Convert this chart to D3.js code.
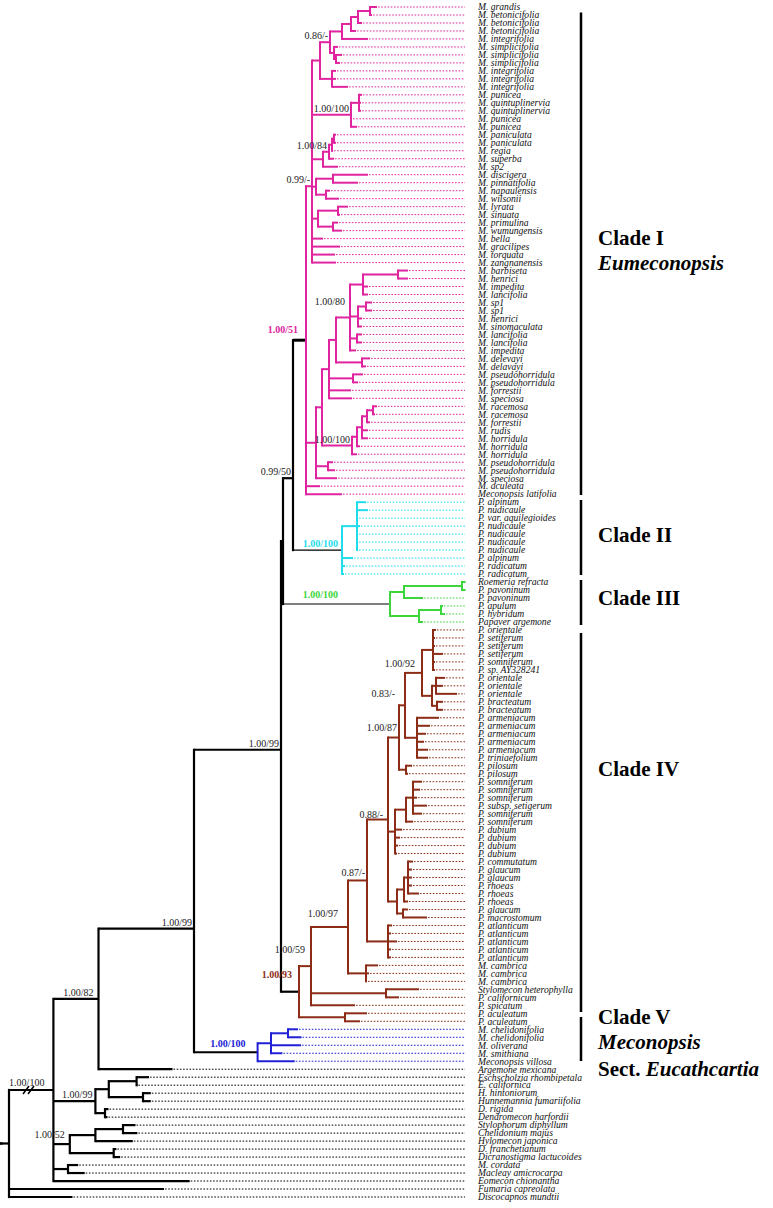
<!DOCTYPE html>
<html><head><meta charset="utf-8">
<script src="https://cdn.jsdelivr.net/npm/d3@7"></script>
<style>html,body{margin:0;padding:0;background:#fff;} svg{display:block;}</style>
</head><body>
<svg id="chart" width="773" height="1208"></svg>
<script>
// ---------------- DATA ----------------
// Newick-like strings. Number after ":" = distance of the node from the root (branch-length units).
// Internal nodes carry an id starting with "#".
const CLADE_I_G1 = "(((((((M. grandis:369,M. betonicifolia:364)#n12:362,M. betonicifolia:354)#n123:350,M. betonicifolia:348)#n1234:343,M. integrifolia:360)#n12345:334,(M. simplicifolia:330,(M. simplicifolia:334,M. simplicifolia:332)#n78:328)#n678:326)#G1a:322,(M. integrifolia:328,M. integrifolia:328,M. integrifolia:340)#G1b:324)#G1:312";
const CLADE_I_G2 = "((M. punicea:354,M. quintuplinervia:353,M. quintuplinervia:353)#n1214:351,M. punicea:344,M. punicea:349)#G2:343";
const CLADE_I_G3 = "((((M. paniculata:328,M. paniculata:328)#n1718:326,M. regia:325)#n19:324,M. superba:326)#n20:321,M. sp2:330)#G3:315";
const CLADE_I_G4 = "((M. discigera:360,M. pinnatifolia:350)#n2223:325,(M. napaulensis:322,M. wilsonii:331)#n2425:318)#G4:308";
const CLADE_I_G5 = "((M. lyrata:340,M. sinuata:332)#n2627:330,(M. primulina:330,M. wumungensis:334)#n2829:325)#G5:310";
const CLADE_I_M80 = "((((M. barbiseta:400,M. henrici:400)#n3435:390,M. impedita:360,M. lancifolia:360)#n363:355,((M. sp1:364,M. sp1:364)#n3839:358,M. henrici:354,M. sinomaculata:354)#n358:350,(M. lancifolia:354,M. lancifolia:354)#n4243:349,M. impedita:348)#n350:342,(M. delevayi:362,M. delavayi:358)#n4546:354)#M80:328";
const CLADE_I_R100 = "(((((M. racemosa:369,M. racemosa:367)#n5152:365,M. forrestii:362)#nA:359,M. rudis:360,M. horridula:360)#nB:354,M. horridula:352)#nC:349,M. horridula:349)#R100:344";

const CLADE_II = "((P. alpinum:358,P. nudicaule:360,P. var. aquilegioides:350,P. nudicaule:352,P. nudicaule:350,P. nudicaule:350,P. nudicaule:350)#n6369:349,P. alpinum:345,P. radicatum:337,P. radicatum:336)#C2:334";
const CLADE_III = "(((Roemeria refracta:457,P. pavoninum:457)#n7374:454,P. pavoninum:415)#n404:396,((P. apulum:435,P. hybridum:437)#n7677:433,Papaver argemone:415)#n419:411)#C3:382";

const CLADE_IV_A = "((P. orientale:428,P. setiferum:427,P. setiferum:427,P. setiferum:435,P. somniferum:427,P. sp. AY328241:427)#n7984:425,((P. orientale:437,P. orientale:435,P. orientale:449)#n8587:428,(P. bracteatum:435,P. bracteatum:435)#n8889:429)#n8589:424)#n7989:414";
const CLADE_IV_ARM = "(P. armeniacum:431,P. armeniacum:422,P. armeniacum:418,P. armeniacum:416,P. armeniacum:420,P. triniaefolium:420)#n9095:409";
const CLADE_IV_PIL = "(P. pilosum:404,P. pilosum:400)#n9697:398";
const CLADE_IV_SOM = "(((P. somniferum:414,P. somniferum:412,P. somniferum:409,P. subsp. setigerum:419,P. somniferum:414)#n98102:405,P. somniferum:405)#n98103:398,P. dubium:394,P. dubium:392,P. dubium:390,P. dubium:389)#n395:387";
const CLADE_IV_RHO = "(((P. commutatum:405,P. glaucum:404,P. glaucum:404,P. rhoeas:404,P. rhoeas:411)#n108112:400,P. rhoeas:400)#n108113:396,(P. glaucum:400,P. macrostomum:419)#n114115:395)#nRh:389";
const CLADE_IV_ATL = "(P. atlanticum:384,P. atlanticum:383,P. atlanticum:389,P. atlanticum:383,P. atlanticum:383)#nAtl:380";
const CLADE_IV_REST = "(M. cambrica:370,M. cambrica:361,M. cambrica:359)#nCamb:358";
const CLADE_IV_BASE = "(Stylomecon heterophylla:411,P. californicum:391)#nStylo:378";
const CLADE_IV_ACU = "(P. aculeatum:359,P. aculeatum:352)#nAcu:337";

const CLADE_V = "(((M. chelidonifolia:290,M. chelidonifolia:293.5)#nChel:280,M. oliverana:293,M. smithiana:274.4)#n271:263,Meconopsis villosa:286.7)#C5:249.6";

const OUT_ESCH = "(((Eschscholzia rhombipetala:141,E. californica:129.4)#nE1:128.6,(H. hintoniorum:142.8,Hunnemannia fumariifolia:142.8)#nE2:135)#nE:100.8,(D. rigida:100.5,Dendromecon harfordii:99.5)#nD:97)#nEsch:87.4";
const OUT_STY = "(((Stylophorum diphyllum:127.5,Chelidonium majus:129.4)#nS2:115,Hylomecon japonica:124.8)#nSC:87.4,(D. franchetianum:108.4,Dicranostigma lactucoides:112.2)#nDF:105.7)#nSty:61.8";
const OUT_CORD = "(M. cordata:70.2,Macleay amicrocarpa:76.7)#nCord:60";

// backbone nodes whose vertical position (in leaf-row units) was moved by hand in the original
const MOVED_NODES = ["#A", "#W", "#P"];
const MOVED_ROW   = [59.0, 93.0, 115.4];

// support values
const SUPPORT_NODES = ["#G1a","#G2","#n20","#U","#n350","#R100","#C1","#A","#C2","#C3","#n7989","#n405","#n399","#n388","#n367","#nIVb","#C4","#C4","#W","#P","#Q","#C5","#I0","#nSty","#nEsch"];
const SUPPORT_TEXT  = ["0.86/-","1.00/100","1.00/84","0.99/-","1.00/80","1.00/100","1.00/51","0.99/50","1.00/100","1.00/100","1.00/92","0.83/-","1.00/87","0.88/-","0.87/-","1.00/97","1.00/59","1.00/93","1.00/99","1.00/99","1.00/82","1.00/100","1.00/100","1.00/52","1.00/99"];
const SUPPORT_CLADE = [null,null,null,null,null,null,"I",null,"II","III",null,null,null,null,null,null,null,"IV",null,null,null,"V",null,null,null];

const CLADE_NAMES = ["Clade I","Clade II","Clade III","Clade IV","Clade V"];

// ---------------- TREE ASSEMBLY ----------------
const C1 = `((${CLADE_I_G1},${CLADE_I_G2},${CLADE_I_G3})#UA:304,${CLADE_I_G4},${CLADE_I_G5},M. bella:315,M. gracilipes:332,M. torquata:327,M. zangnanensis:328)#U:304`;
const L = `(((${CLADE_I_M80},(M. pseudohorridula:355,M. pseudohorridula:350)#n4748:345,M. forrestii:343,M. speciosa:344)#L1a:321,${CLADE_I_R100})#L1:314,(M. pseudohorridula:325,M. pseudohorridula:327)#n5859:320,M. speciosa:329)#L:308`;
const CLADE_I = `(${C1},${L},M. aculeata:312,Meconopsis latifolia:334)#C1:298`;
const N405 = `(${CLADE_IV_A},${CLADE_IV_ARM})#n405:397`;
const N399 = `(${N405},${CLADE_IV_PIL})#n399:391`;
const N367 = `((${N399},${CLADE_IV_SOM},${CLADE_IV_RHO})#n388:380,${CLADE_IV_ATL})#n367:359`;
const CLADE_IV = `(((${N367},${CLADE_IV_REST})#nIVb:340,${CLADE_IV_BASE},P. spicatum:347)#nIVa:303,${CLADE_IV_ACU})#C4:291`;
const Q = `(((((${CLADE_I},${CLADE_II})#A:285,${CLADE_III})#Z:275,${CLADE_IV})#W:273,${CLADE_V})#P:186,Argemone mexicana:164.5)#Q:90.5`;
const I0 = `(${Q},${OUT_ESCH},${OUT_STY},${OUT_CORD},Eomecon chionantha:181.7)#I0:45.4`;
const TREE = `(${I0},Fumaria capreolata:156,Discocapnos mundtii:64.5)#root:1`;

// ---------------- STYLE ----------------
const COLORS = { I:"#e0249f", II:"#1fdcec", III:"#3cd63c", IV:"#8c2c16", V:"#2020d6", base:"#000" };
const CLADE_ROOTS = { "#C1":"I", "#C2":"II", "#C3":"III", "#C4":"IV", "#C5":"V" };
const STEM_WIDTH = { "#C1":3, "#C2":1.4, "#C3":1.2 };
const NUDGE = {
  6:[-8,-7], 7:[-2,-3], 8:[-4,-3], 9:[-52,-6], 10:[-7,-6], 11:[-10,-8], 12:[-2,-7], 13:[-5,-2], 14:[-2,-4],
  15:[-10,-10], 16:[6,-39], 17:[-7,-14], 21:[-12,-5], 22:[-9,-4], 23:[-5,-6], 24:[-3,-3], 20:[-5,-3], 4:[-5,-12]
};
const SERIF = "'Liberation Serif','Times New Roman',serif";

// ---------------- PARSER ----------------
function parseTree(s) {
  let i = 0;
  function node() {
    const n = { children: [] };
    if (s[i] === "(") {
      i++;
      n.children.push(node());
      while (s[i] === ",") { i++; n.children.push(node()); }
      i++;
    }
    let name = "";
    while (i < s.length && !":,)".includes(s[i])) name += s[i++];
    n.name = name.trim();
    if (s[i] === ":") {
      i++;
      let num = "";
      while (i < s.length && !",)".includes(s[i])) num += s[i++];
      n.d = +num;
    }
    return n;
  }
  return node();
}

// ---------------- DRAW ----------------
const svg = d3.select("#chart");
const root = d3.hierarchy(parseTree(TREE), d => d.children.length ? d.children : null);
const leaves = root.leaves();
const x = d3.scaleLinear().domain([0, 460]).range([8, 468]);
const y = d3.scaleLinear().domain([0, leaves.length - 1]).range([7, 1197]);

root.each(n => {
  const key = CLADE_ROOTS[n.data.name];
  n.clade = key ? key : (n.parent ? n.parent.clade : "base");
  n.color = COLORS[n.clade];
});
leaves.forEach((l, i) => l.py = y(i));
root.eachAfter(n => {
  n.px = x(n.data.d);
  if (n.children) {
    const m = MOVED_NODES.indexOf(n.data.name);
    n.py = m >= 0 ? y(MOVED_ROW[m])
      : (n.children[0].py + n.children[n.children.length - 1].py) / 2;
  }
});
const byId = {};
root.each(n => { if (n.data.name.startsWith("#")) byId[n.data.name] = n; });

const gTree = svg.append("g");
const thick = n => (n.clade === "base" ? 2.2 : 2);

svg.append("g").selectAll("line").data(leaves).join("line")
  .attr("x1", d => d.px + 1).attr("x2", x(457))
  .attr("y1", d => d.py).attr("y2", d => d.py)
  .attr("stroke", d => d.color).attr("stroke-width", 1)
  .attr("stroke-dasharray", "1.6,1.6");

const internals = root.descendants().filter(n => n.children);
internals.forEach(n => {
  const ys = n.children.map(c => c.py);
  gTree.append("line").attr("x1", n.px).attr("x2", n.px)
    .attr("y1", d3.min(ys)).attr("y2", d3.max(ys))
    .attr("stroke", n.color).attr("stroke-width", thick(n)).attr("stroke-linecap", "square");
  n.children.forEach(c => {
    gTree.append("line").attr("x1", n.px).attr("x2", c.px)
      .attr("y1", c.py).attr("y2", c.py)
      .attr("stroke", n.color).attr("stroke-width", STEM_WIDTH[c.data.name] || thick(n));
  });
});
gTree.append("line").attr("x1", x(-5)).attr("x2", root.px).attr("y1", root.py).attr("y2", root.py)
  .attr("stroke", "#000").attr("stroke-width", 2);
const i0 = byId["#I0"];
[x(18), x(23)].forEach(bx => {
  gTree.append("line").attr("x1", bx - 3).attr("x2", bx + 3)
    .attr("y1", i0.py + 4).attr("y2", i0.py - 4)
    .attr("stroke", "#000").attr("stroke-width", 1.6);
});

svg.append("g").selectAll("text").data(leaves).join("text")
  .attr("x", 478).attr("y", d => d.py + 3.3)
  .attr("font-family", SERIF)
  .attr("font-style", "italic").attr("font-size", "9.6px").attr("fill", "#111")
  .text(d => d.data.name);

SUPPORT_NODES.forEach((id, k) => {
  const n = byId[id];
  const off = NUDGE[k] || [-2, -3];
  const ck = SUPPORT_CLADE[k];
  svg.append("text")
    .attr("x", n.px + off[0]).attr("y", n.py + off[1])
    .attr("text-anchor", "end")
    .attr("font-family", SERIF)
    .attr("font-size", "10px")
    .attr("font-weight", ck ? "bold" : "normal")
    .attr("fill", ck ? COLORS[ck] : "#222")
    .text(SUPPORT_TEXT[k]);
});

const barStart = [12.5, 500, 580, 633, 1017];
const barEnd = [495, 575, 625, 1012, 1061];
CLADE_NAMES.forEach((nm, k) => {
  svg.append("line").attr("x1", 581).attr("x2", 581)
    .attr("y1", barStart[k]).attr("y2", barEnd[k])
    .attr("stroke", "#000").attr("stroke-width", 2.5);
});
const big = (txt, yy, italic) => svg.append("text").attr("x", 598).attr("y", yy)
  .attr("font-family", SERIF)
  .attr("font-weight", "bold").attr("font-size", "21px")
  .attr("font-style", italic ? "italic" : "normal").attr("fill", "#000").text(txt);
big(CLADE_NAMES[0], 245, false);
big("Eumeconopsis", 270, true);
big(CLADE_NAMES[1], 542, false);
big(CLADE_NAMES[2], 605, false);
big(CLADE_NAMES[3], 776, false);
big(CLADE_NAMES[4], 1024, false);
big("Meconopsis", 1049, true);
const sect = svg.append("text").attr("x", 598).attr("y", 1076)
  .attr("font-family", SERIF)
  .attr("font-weight", "bold").attr("font-size", "21px").attr("fill", "#000");
sect.append("tspan").text("Sect. ");
sect.append("tspan").attr("font-style", "italic").text("Eucathcartia");
</script></body></html>
